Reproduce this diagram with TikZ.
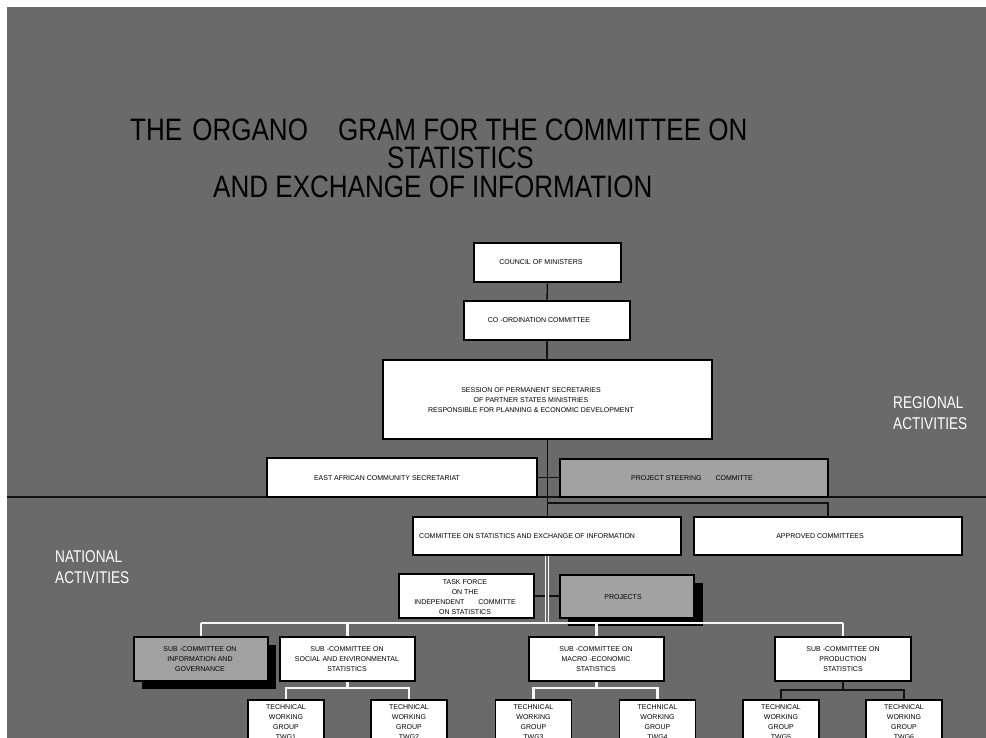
\documentclass[tikz,border=0pt]{standalone}
\usepackage{fontspec}
\setmainfont{Liberation Sans}
\newfontfamily\headfont[FakeStretch=0.84]{Liberation Sans}
\newfontfamily\sidefont[FakeStretch=0.8]{Liberation Sans}
\definecolor{slate}{RGB}{106,106,106}
\definecolor{panelgray}{RGB}{162,162,162}
\definecolor{wirecol}{RGB}{18,18,18}
\definecolor{buscol}{RGB}{246,246,246}

\begin{document}
\begin{tikzpicture}[x=1pt,y=-1pt,
  box/.style={draw=black, line width=1.4pt, fill=white, rectangle, inner sep=0pt},
  greybox/.style={box, fill=panelgray},
  dropshadow/.style={fill=black, draw=none},
  txt/.style={font=\fontsize{7}{10}\selectfont, align=center, inner sep=0pt, text=black},
  side/.style={font=\sidefont\fontsize{17}{21}\selectfont, align=left, text=white, inner sep=0pt, anchor=north west},
  head/.style={font=\headfont\fontsize{31}{31}\selectfont, inner sep=0pt, anchor=base west, text=black},
  wire/.style={draw=wirecol, line width=1.4pt},
  bus/.style={draw=buscol, line width=2.6pt},
  twgbox/.style={box, minimum width=76pt, minimum height=60pt},
]
\useasboundingbox (0,0) rectangle (986,738);
\begin{scope}
\clip (0,0) rectangle (986,738);

% slide background
\fill[white] (0,0) rectangle (986,738);
\fill[slate] (7,7) rectangle (986,738);

% regional / national divider
\coordinate (sepL) at (7,497);
\coordinate (sepR) at (986,497);
\draw[wire] (sepL) -- (sepR);

% heading
\node[head] (title1) at (130,141) {THE\hspace{10pt}ORGANO\hspace{30pt}GRAM FOR THE COMMITTEE ON};
\node[head] (title2) at (387,169) {STATISTICS};
\node[head] (title3) at (213,198) {AND EXCHANGE OF INFORMATION};

% side captions
\node[side] (regional) at (893,396) {REGIONAL\\ACTIVITIES};
\node[side] (national) at (55,550) {NATIONAL\\ACTIVITIES};

% regional boxes
\node[box, minimum width=147pt, minimum height=39pt] (council) at (547.5,262.5) {};
\node[box, minimum width=166pt, minimum height=39pt] (coord) at (547,320.5) {};
\node[box, minimum width=329pt, minimum height=79pt] (session) at (547.5,399.5) {};
\node[box, minimum width=270pt, minimum height=39pt] (eac) at (402,477.5) {};
\node[greybox, minimum width=268pt, minimum height=38pt] (psc) at (694,478) {};

% national boxes
\node[box, minimum width=268pt, minimum height=38pt] (csei) at (547,536) {};
\node[box, minimum width=268pt, minimum height=38pt] (approved) at (828,536) {};
\node[box, minimum width=135pt, minimum height=44pt] (taskforce) at (466.5,596) {};
\fill[dropshadow] (568,583) rectangle (703,626);
\node[greybox, minimum width=134pt, minimum height=43pt] (projects) at (627,596.5) {};

% connectors between the upper levels
\draw[wire] (council.south) -- (coord.north);
\draw[wire] (coord.south) -- (session.north -| coord.south);
\draw[wire] (session.south) -- (session.south |- csei.north);
\draw[wire] (eac.east) -- (eac.east -| psc.west);
\coordinate (split) at (548,503);
\draw[wire] (split) -| (approved.north);
\draw[wire] (taskforce.east) -- (taskforce.east -| projects.west);

% white bus to the sub-committees
\coordinate (busy) at (0,623);
\draw[draw=buscol, line width=0.9pt, double=slate, double distance=1.6pt] (csei.south) -- (csei.south |- busy);

\fill[dropshadow] (142,645) rectangle (276,689);
\node[greybox, minimum width=134pt, minimum height=44pt] (info) at (201,659) {};
\node[box, minimum width=135pt, minimum height=44pt] (social) at (347.5,659) {};
\node[box, minimum width=135pt, minimum height=44pt] (macro) at (596.5,659) {};
\node[box, minimum width=136pt, minimum height=44pt] (production) at (843,659) {};

\draw[bus] (info.north |- busy) -- (production.north |- busy);
\draw[bus] (info.north |- busy) -- (info.north);
\draw[bus] (social.north |- busy) -- (social.north);
\draw[bus] (macro.north |- busy) -- (macro.north);
\draw[bus] (production.north |- busy) -- (production.north);

% technical working groups
\node[twgbox] (twg1) at (286,730) {};
\node[twgbox] (twg2) at (409,730) {};
\node[twgbox] (twg3) at (533.5,730) {};
\node[twgbox] (twg4) at (657.5,730) {};
\node[twgbox] (twg5) at (781,730) {};
\node[twgbox] (twg6) at (904,730) {};

\coordinate (sjoin) at (0,688);
\coordinate (pjoin) at (0,690);
\draw[bus, line width=2.2pt] (social.south) -- (social.south |- sjoin);
\draw[bus, line width=2.2pt] (twg1.north) |- (twg2.north |- sjoin) -- (twg2.north);
\draw[bus, line width=2.2pt] (macro.south) -- (macro.south |- sjoin);
\draw[bus, line width=2.2pt] (twg3.north) |- (twg4.north |- sjoin) -- (twg4.north);
\draw[wire] (production.south) -- (production.south |- pjoin);
\draw[wire] (twg5.north) |- (twg6.north |- pjoin) -- (twg6.north);

% box texts
\node[txt] (council-t) at (541,262.5) {COUNCIL OF MINISTERS};
\node[txt] (coord-t) at (539,320.5) {CO -ORDINATION COMMITTEE};
\node[txt] (session-t) at (531,400) {SESSION OF PERMANENT SECRETARIES\\OF PARTNER STATES MINISTRIES\\RESPONSIBLE FOR PLANNING \& ECONOMIC DEVELOPMENT};
\node[txt] (eac-t) at (387,478) {EAST AFRICAN COMMUNITY SECRETARIAT};
\node[txt] (psc-t) at (692,478) {PROJECT STEERING\hspace{14pt}COMMITTE};
\node[txt, anchor=west] (csei-t) at (419,536) {COMMITTEE ON STATISTICS AND EXCHANGE OF INFORMATION};
\node[txt] (approved-t) at (820,536) {APPROVED COMMITTEES};
\node[txt] (taskforce-t) at (465,597) {TASK FORCE\\ON THE\\INDEPENDENT\hspace{14pt}COMMITTE\\ON STATISTICS};
\node[txt] (projects-t) at (623,597) {PROJECTS};
\node[txt] (info-t) at (200,659) {SUB -COMMITTEE ON\\INFORMATION AND\\GOVERNANCE};
\node[txt] (social-t) at (347,659) {SUB -COMMITTEE ON\\SOCIAL AND ENVIRONMENTAL\\STATISTICS};
\node[txt] (macro-t) at (596,659) {SUB -COMMITTEE ON\\MACRO -ECONOMIC\\STATISTICS};
\node[txt] (production-t) at (843,659) {SUB -COMMITTEE ON\\PRODUCTION\\STATISTICS};
\foreach \i/\x in {1/286,2/409,3/533.5,4/657.5,5/781,6/904}
  \node[txt, anchor=north] (twg\i-t) at (\x,704) {TECHNICAL\\WORKING\\GROUP\\TWG\i};
\end{scope}
\end{tikzpicture}
\end{document}
